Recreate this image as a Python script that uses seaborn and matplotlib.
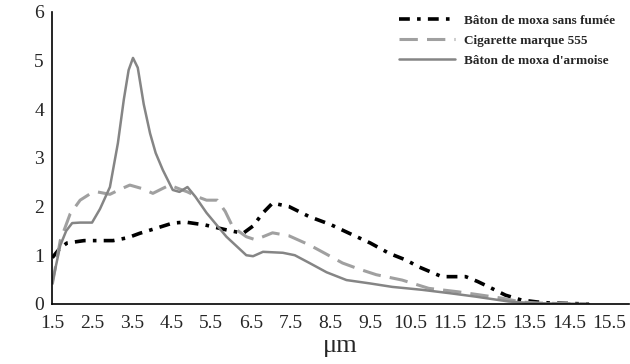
import numpy as np
import pandas as pd
import matplotlib
matplotlib.use("Agg")
import matplotlib.pyplot as plt
import seaborn as sns

# Bâton de moxa sans fumée (black, dash-dot)
x_sans = [1.5, 1.7, 1.87, 2.3, 2.7, 3.03, 3.4, 3.7, 4.1, 4.53, 4.85, 5.35, 5.88, 6.3, 6.55,
          6.8, 7.04, 7.45, 7.97, 8.5, 8.97, 9.5, 9.97, 10.4, 10.72, 11.3, 11.9, 12.2, 12.48,
          12.9, 13.3, 13.7, 14.0, 14.5, 15.0]
y_sans = [0.95, 1.15, 1.25, 1.3, 1.3, 1.3, 1.36, 1.45, 1.55, 1.66, 1.68, 1.62, 1.52, 1.45, 1.6,
          1.87, 2.07, 2.0, 1.79, 1.63, 1.45, 1.25, 1.04, 0.9, 0.76, 0.56, 0.56, 0.46, 0.35,
          0.18, 0.08, 0.04, 0.02, 0.01, 0.0]

# Cigarette marque 555 (grey, long dashes)
x_cig = [1.5, 1.7, 1.95, 2.2, 2.45, 2.63, 2.95, 3.2, 3.45, 3.75, 4.03, 4.25, 4.45, 4.7, 4.9,
         5.15, 5.38, 5.65, 5.85, 6.04, 6.38, 6.6, 6.8, 7.04, 7.45, 7.97, 8.4, 8.8, 9.2, 9.65,
         10.3, 10.97, 11.7, 12.3, 12.8, 13.3, 13.7, 14.2, 15.0]
y_cig = [0.4, 1.3, 1.85, 2.13, 2.26, 2.3, 2.25, 2.35, 2.44, 2.37, 2.27, 2.36, 2.44, 2.36, 2.3,
         2.2, 2.13, 2.13, 1.9, 1.58, 1.38, 1.32, 1.38, 1.46, 1.4, 1.21, 1.02, 0.84, 0.72, 0.6,
         0.49, 0.32, 0.25, 0.18, 0.12, 0.04, 0.02, 0.01, 0.0]

# Bâton de moxa d'armoise (grey, solid)
x_arm = [1.5, 1.7, 1.85, 2.0, 2.2, 2.5, 2.7, 2.95, 3.15, 3.3, 3.42, 3.53, 3.65, 3.8, 3.96,
         4.1, 4.28, 4.53, 4.7, 4.9, 5.1, 5.38, 5.88, 6.38, 6.55, 6.8, 7.3, 7.6, 7.97, 8.4,
         8.9, 9.5, 10.05, 10.8, 11.5, 12.15, 12.98, 13.5, 14.0, 15.0]
y_arm = [0.43, 1.2, 1.5, 1.66, 1.67, 1.67, 1.95, 2.4, 3.3, 4.2, 4.8, 5.05, 4.85, 4.1, 3.5,
         3.1, 2.75, 2.34, 2.3, 2.4, 2.2, 1.87, 1.38, 1.0, 0.98, 1.07, 1.05, 1.0, 0.84, 0.65,
         0.49, 0.42, 0.35, 0.29, 0.22, 0.15, 0.05, 0.02, 0.01, 0.0]

x_ticks = np.arange(1.5, 16.0, 0.5)
x_tick_labels = ["1.5", "2.5", "3.5", "4.5", "5.5", "6.5", "7.5", "8.5", "9.5",
                 "10.5", "11.5", "12.5", "13.5", "14.5", "15.5"]
y_ticks = [0, 1, 2, 3, 4, 5, 6]

sns.set_style("white")
plt.rcParams['font.family'] = ['Liberation Serif', 'DejaVu Serif']

fig = plt.figure(figsize=(6.3, 3.64), dpi=100)
ax = fig.add_axes([0.083, 0.165, 0.915, 0.803])

sns.lineplot(x=x_sans, y=y_sans, ax=ax, color='black', linewidth=2.6,
             linestyle=(0, (3, 2, 1, 2)), label="Bâton de moxa sans fumée")
sns.lineplot(x=x_cig, y=y_cig, ax=ax, color='#a0a0a0', linewidth=2.2,
             linestyle=(0, (6, 3)), label="Cigarette marque 555")
sns.lineplot(x=x_arm, y=y_arm, ax=ax, color='#858585', linewidth=1.8,
             linestyle='-', label="Bâton de moxa d'armoise")

ax.set_xlim(1.5, 16.0)
ax.set_ylim(0, 6)
ax.set_xticks(x_ticks)
labels = []
for i, t in enumerate(x_ticks):
    labels.append(x_tick_labels[i // 2] if i % 2 == 0 else "")
ax.set_xticklabels(labels)
ax.set_yticks(y_ticks)
ax.tick_params(axis='both', direction='in', length=4, width=1, labelsize=14,
               color='black')
ax.tick_params(axis='x', pad=8)
ax.tick_params(axis='y', pad=6)

for s in ['top', 'right']:
    ax.spines[s].set_visible(False)
for s in ['left', 'bottom']:
    ax.spines[s].set_color('black')
    ax.spines[s].set_linewidth(1.2)

ax.set_xlabel("μm", fontsize=19, labelpad=2)
ax.set_ylabel("")

leg = ax.legend(loc='upper right', bbox_to_anchor=(0.985, 0.975),
                bbox_transform=fig.transFigure, borderaxespad=0, frameon=False,
                prop={'family': 'Liberation Serif', 'weight': 'bold', 'size': 9.5},
                handlelength=4.2, handletextpad=0.7, labelspacing=0.6)

fig.savefig("out.png", dpi=100)
